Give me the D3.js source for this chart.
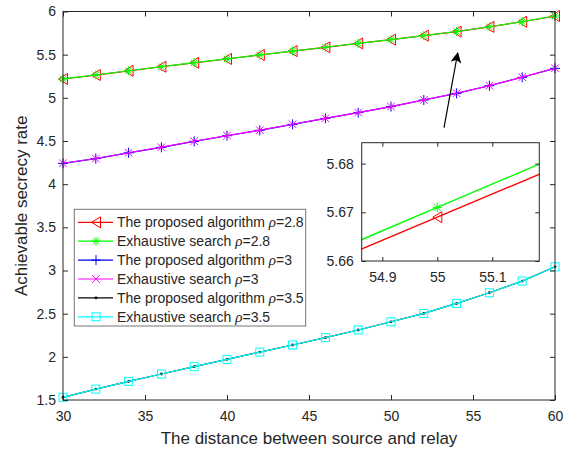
<!DOCTYPE html>
<html>
<head>
<meta charset="utf-8">
<script src="https://cdn.jsdelivr.net/npm/d3@7"></script>
<style>
body { margin: 0; background: #fff; }
text { font-family: "Liberation Sans", Arial, sans-serif; fill: #262626; }
</style>
</head>
<body>
<div id="chart"></div>
<script>
var width = 573;
var height = 450;

// distance between source and relay
var distance = [30, 32, 34, 36, 38, 40, 42, 44, 46, 48, 50, 52, 54, 56, 58, 60];

// achievable secrecy rate for each curve
var proposed28 = [5.218, 5.264, 5.313, 5.36, 5.406, 5.45, 5.496, 5.541, 5.585, 5.63, 5.674, 5.72, 5.767, 5.822, 5.881, 5.947];
var exhaustive28 = [5.219, 5.265, 5.314, 5.361, 5.407, 5.451, 5.497, 5.542, 5.586, 5.631, 5.675, 5.721, 5.768, 5.823, 5.882, 5.948];
var proposed3 = [4.241, 4.296, 4.363, 4.427, 4.496, 4.561, 4.624, 4.693, 4.762, 4.828, 4.898, 4.975, 5.052, 5.14, 5.238, 5.342];
var exhaustive3 = [4.242, 4.297, 4.364, 4.428, 4.497, 4.562, 4.625, 4.694, 4.763, 4.829, 4.899, 4.976, 5.053, 5.141, 5.239, 5.343];
var proposed35 = [1.531, 1.626, 1.715, 1.801, 1.886, 1.971, 2.055, 2.137, 2.222, 2.311, 2.406, 2.503, 2.619, 2.742, 2.877, 3.043];
var exhaustive35 = [1.531, 1.626, 1.715, 1.801, 1.886, 1.971, 2.055, 2.137, 2.222, 2.311, 2.406, 2.503, 2.619, 2.742, 2.877, 3.043];

// zoomed window around distance 55
var insetX = [54.8, 55, 55.2];
var insetProposed = [5.6595, 5.669, 5.6785];
var insetExhaustive = [5.6614, 5.671, 5.6806];

var xTicks = [30, 35, 40, 45, 50, 55, 60];
var yTicks = [1.5, 2, 2.5, 3, 3.5, 4, 4.5, 5, 5.5, 6];
var insetXTicks = [54.9, 55, 55.1];
var insetYTicks = [5.66, 5.67, 5.68];

var series = [
  {name: "The proposed algorithm ", rho: "2.8", values: proposed28, color: "#ff0000", marker: "tri"},
  {name: "Exhaustive search ", rho: "2.8", values: exhaustive28, color: "#00ff00", marker: "star"},
  {name: "The proposed algorithm ", rho: "3", values: proposed3, color: "#0000ff", marker: "plus"},
  {name: "Exhaustive search ", rho: "3", values: exhaustive3, color: "#ff00ff", marker: "cross"},
  {name: "The proposed algorithm ", rho: "3.5", values: proposed35, color: "#000000", marker: "dot"},
  {name: "Exhaustive search ", rho: "3.5", values: exhaustive35, color: "#00ffff", marker: "square"}
];

var svg = d3.select("#chart").append("svg")
  .attr("width", width)
  .attr("height", height);

var mLeft = 63, mRight = 555, mTop = 11.5, mBottom = 400;

var xScale = d3.scaleLinear().domain([30, 60]).range([mLeft, mRight]);
var yScale = d3.scaleLinear().domain([1.5, 6]).range([mBottom, mTop]);

// marker shapes
function drawMarker(g, type, color, x, y) {
  if (type == "tri") {
    g.append("path").attr("d", "M" + (x - 4.5) + "," + y + "L" + (x + 4.5) + "," + (y - 5.5) + "L" + (x + 4.5) + "," + (y + 5.5) + "Z")
      .attr("fill", "none").attr("stroke", color).attr("stroke-width", 1);
  } else if (type == "star") {
    var s = 4.5, d = 3.2;
    g.append("path").attr("d", "M" + (x - s) + "," + y + "H" + (x + s) + "M" + x + "," + (y - s) + "V" + (y + s) +
      "M" + (x - d) + "," + (y - d) + "L" + (x + d) + "," + (y + d) + "M" + (x - d) + "," + (y + d) + "L" + (x + d) + "," + (y - d))
      .attr("stroke", color).attr("stroke-width", 1);
  } else if (type == "plus") {
    var p = 5;
    g.append("path").attr("d", "M" + (x - p) + "," + y + "H" + (x + p) + "M" + x + "," + (y - p) + "V" + (y + p))
      .attr("stroke", color).attr("stroke-width", 1);
  } else if (type == "cross") {
    var c = 3.8;
    g.append("path").attr("d", "M" + (x - c) + "," + (y - c) + "L" + (x + c) + "," + (y + c) + "M" + (x - c) + "," + (y + c) + "L" + (x + c) + "," + (y - c))
      .attr("stroke", color).attr("stroke-width", 1);
  } else if (type == "dot") {
    g.append("circle").attr("cx", x).attr("cy", y).attr("r", 1.4).attr("fill", color);
  } else if (type == "square") {
    g.append("rect").attr("x", x - 4).attr("y", y - 4).attr("width", 8).attr("height", 8)
      .attr("fill", "none").attr("stroke", color).attr("stroke-width", 1);
  }
}

// main axes
svg.append("rect").attr("x", mLeft).attr("y", mTop).attr("width", mRight - mLeft).attr("height", mBottom - mTop)
  .attr("fill", "#fff");

var line = d3.line()
  .x(function(d, i) { return xScale(distance[i]); })
  .y(function(d) { return yScale(d); });

series.forEach(function(s) {
  var g = svg.append("g");
  g.append("path").datum(s.values)
    .attr("d", line)
    .attr("fill", "none")
    .attr("stroke", s.color)
    .attr("stroke-width", 1.2);
  s.values.forEach(function(v, i) {
    drawMarker(g, s.marker, s.color, xScale(distance[i]), yScale(v));
  });
});

var xAxis = d3.axisBottom(xScale).tickValues(xTicks).tickSizeInner(-5).tickSizeOuter(0).tickPadding(11);
var yAxis = d3.axisLeft(yScale).tickValues(yTicks).tickSizeInner(-5).tickSizeOuter(0).tickPadding(7)
  .tickFormat(d3.format("~g"));
var xAxisTop = d3.axisTop(xScale).tickValues(xTicks).tickSizeInner(-5).tickSizeOuter(0).tickFormat("");
var yAxisRight = d3.axisRight(yScale).tickValues(yTicks).tickSizeInner(-5).tickSizeOuter(0).tickFormat("");

function styleAxis(g, size) {
  g.select(".domain").remove();
  g.selectAll("line").attr("stroke", "#262626");
  g.selectAll("text").style("font-size", size + "px").attr("fill", "#262626")
    .style("font-family", "'Liberation Sans', Arial, sans-serif");
}

svg.append("g").attr("transform", "translate(0," + mBottom + ")").call(xAxis).call(styleAxis, 14);
svg.append("g").attr("transform", "translate(" + mLeft + ",0)").call(yAxis).call(styleAxis, 14);
svg.append("g").attr("transform", "translate(0," + mTop + ")").call(xAxisTop).call(styleAxis, 14);
svg.append("g").attr("transform", "translate(" + mRight + ",0)").call(yAxisRight).call(styleAxis, 14);

svg.append("rect").attr("x", mLeft).attr("y", mTop).attr("width", mRight - mLeft).attr("height", mBottom - mTop)
  .attr("fill", "none").attr("stroke", "#262626").attr("stroke-width", 1);

svg.append("text")
  .attr("x", (mLeft + mRight) / 2)
  .attr("y", 444)
  .attr("text-anchor", "middle")
  .style("font-size", "17px")
  .text("The distance between source and relay");

svg.append("text")
  .attr("transform", "translate(21," + ((mTop + mBottom) / 2) + ") rotate(-90)")
  .attr("text-anchor", "middle")
  .attr("dy", "0.35em")
  .style("font-size", "17px")
  .text("Achievable secrecy rate");

// legend
var legend = svg.append("g");
legend.append("rect").attr("x", 74.3).attr("y", 209.3).attr("width", 231.4).attr("height", 116.7)
  .attr("fill", "#fff").attr("stroke", "#777").attr("stroke-width", 1);

series.forEach(function(s, i) {
  var ly = 222.3 + i * 18.9;
  legend.append("line").attr("x1", 78).attr("x2", 113).attr("y1", ly).attr("y2", ly)
    .attr("stroke", s.color).attr("stroke-width", 1.2);
  drawMarker(legend, s.marker, s.color, 96, ly);
  var t = legend.append("text").attr("x", 117).attr("y", ly).attr("dy", "0.36em")
    .style("font-size", "14px");
  t.append("tspan").text(s.name);
  t.append("tspan").style("font-style", "italic").style("font-family", "'Liberation Serif', serif")
    .style("font-size", "15px").text("\u03c1");
  t.append("tspan").text("=" + s.rho);
});

// arrow pointing to the zoomed region
var defs = svg.append("defs");
defs.append("marker").attr("id", "head")
  .attr("viewBox", "0 0 10 10").attr("refX", 9).attr("refY", 5)
  .attr("markerWidth", 11).attr("markerHeight", 11).attr("markerUnits", "userSpaceOnUse")
  .attr("orient", "auto")
  .append("path").attr("d", "M0,0L10,5L0,10L2.5,5Z").attr("fill", "#000");

svg.append("line")
  .attr("x1", 444).attr("y1", 127.7).attr("x2", 457.7).attr("y2", 53)
  .attr("stroke", "#000").attr("stroke-width", 1.2)
  .attr("marker-end", "url(#head)");

// inset axes
var iLeft = 361.7, iRight = 539.3, iTop = 142.7, iBottom = 261;
var ixScale = d3.scaleLinear().domain([54.8625, 55.1855]).range([iLeft, iRight]);
var iyScale = d3.scaleLinear().domain([5.66, 5.6843]).range([iBottom, iTop]);

svg.append("rect").attr("x", iLeft).attr("y", iTop).attr("width", iRight - iLeft).attr("height", iBottom - iTop)
  .attr("fill", "#fff");

defs.append("clipPath").attr("id", "insetClip")
  .append("rect").attr("x", iLeft).attr("y", iTop).attr("width", iRight - iLeft).attr("height", iBottom - iTop);

var insetLine = d3.line()
  .x(function(d, i) { return ixScale(insetX[i]); })
  .y(function(d) { return iyScale(d); });

var inset = svg.append("g").attr("clip-path", "url(#insetClip)");
[[insetProposed, "#ff0000", "tri"], [insetExhaustive, "#00ff00", "star"]].forEach(function(s) {
  inset.append("path").datum(s[0])
    .attr("d", insetLine)
    .attr("fill", "none")
    .attr("stroke", s[1])
    .attr("stroke-width", 1.4);
  drawMarker(inset, s[2], s[1], ixScale(insetX[1]), iyScale(s[0][1]));
});

var ixAxis = d3.axisBottom(ixScale).tickValues(insetXTicks).tickSizeInner(-4).tickSizeOuter(0).tickPadding(11)
  .tickFormat(d3.format("~g"));
var iyAxis = d3.axisLeft(iyScale).tickValues(insetYTicks).tickSizeInner(-4).tickSizeOuter(0).tickPadding(8)
  .tickFormat(d3.format(".2f"));
var ixAxisTop = d3.axisTop(ixScale).tickValues(insetXTicks).tickSizeInner(-4).tickSizeOuter(0).tickFormat("");
var iyAxisRight = d3.axisRight(iyScale).tickValues(insetYTicks).tickSizeInner(-4).tickSizeOuter(0).tickFormat("");

svg.append("g").attr("transform", "translate(0," + iBottom + ")").call(ixAxis).call(styleAxis, 14);
svg.append("g").attr("transform", "translate(" + iLeft + ",0)").call(iyAxis).call(styleAxis, 14);
svg.append("g").attr("transform", "translate(0," + iTop + ")").call(ixAxisTop).call(styleAxis, 14);
svg.append("g").attr("transform", "translate(" + iRight + ",0)").call(iyAxisRight).call(styleAxis, 14);

svg.append("rect").attr("x", iLeft).attr("y", iTop).attr("width", iRight - iLeft).attr("height", iBottom - iTop)
  .attr("fill", "none").attr("stroke", "#262626").attr("stroke-width", 1);
</script>
</body>
</html>
